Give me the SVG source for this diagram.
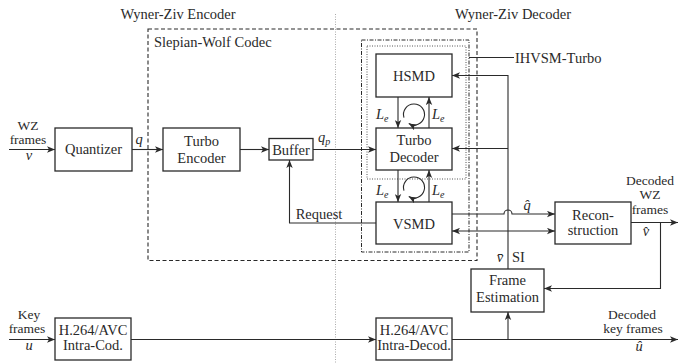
<svg xmlns="http://www.w3.org/2000/svg" width="678" height="364" viewBox="0 0 678 364" font-family="Liberation Serif, DejaVu Serif, Times New Roman, serif">
<style>
text{font-family:"Liberation Serif","DejaVu Serif","Times New Roman",serif;font-size:14.5px;fill:#2a2a2a}
.s{font-size:13.5px}
.m{font-style:italic}
.c{text-anchor:middle}
.box{fill:none;stroke:#2a2a2a;stroke-width:1.3}
.ln{fill:none;stroke:#2a2a2a;stroke-width:1.1}
.arr{marker-end:url(#ah)}
</style>
<defs>
<marker id="ah" markerUnits="userSpaceOnUse" markerWidth="9" markerHeight="7" refX="8" refY="3.5" orient="auto-start-reverse">
<path d="M0,0.3 L8,3.5 L0,6.7 L2,3.5 z" fill="#2a2a2a"/>
</marker>
</defs>
<rect width="678" height="364" fill="#fff"/>
<g id="frames">
<line x1="335.5" y1="14" x2="335.5" y2="364" stroke="#aaa" stroke-width="1" stroke-dasharray="1,1.5"/>
<rect x="148" y="29" width="329" height="231.5" fill="none" stroke="#2a2a2a" stroke-width="1.1" stroke-dasharray="4,2.5"/>
<rect x="361.5" y="40" width="107.5" height="212" fill="none" stroke="#2a2a2a" stroke-width="1" stroke-dasharray="4,1.5,1,1.5"/>
<rect x="367" y="46" width="99" height="133" fill="none" stroke="#555" stroke-width="1" stroke-dasharray="1,1.5"/>
<text x="178" y="19" class="c">Wyner-Ziv Encoder</text>
<text x="513" y="19" class="c">Wyner-Ziv Decoder</text>
<text x="154" y="47">Slepian-Wolf Codec</text>
<text x="515" y="63">IHVSM-Turbo</text>
</g>
<g id="connectors">
<path class="ln arr" d="M9,149.5 H55"/>
<path class="ln arr" d="M132,149.5 H163"/>
<path class="ln arr" d="M240,149.5 H269"/>
<path class="ln arr" d="M313,149.5 H376"/>
<path class="ln arr" d="M376,223 H289.5 V160"/>
<path class="ln arr" d="M398,97 V128"/>
<path class="ln arr" d="M429,128 V97"/>
<path class="ln arr" d="M398,170 V202"/>
<path class="ln arr" d="M429,202 V170"/>
<path class="ln arr" d="M403.96,117.57 A10.5,10.5 0 1 1 408.75,123.59"/>
<path class="ln arr" d="M403.96,190.57 A10.5,10.5 0 1 1 408.75,196.59"/>
<path class="ln arr" d="M508,269 V75.5 H452"/>
<path class="ln arr" d="M508,148.5 H452"/>
<path class="ln arr" d="M452,214 H504 A4,4 0 0 1 512,214 H555" />
<path class="ln arr" d="M452,231 H555" style="marker-start:url(#ah)"/>
<path class="ln arr" d="M631,222.5 H678"/>
<path class="ln arr" d="M660.5,222.5 V288.5 H544"/>
<path class="ln arr" d="M9,339.5 H55"/>
<path class="ln arr" d="M131,339.5 H376"/>
<path class="ln arr" d="M452,339.5 H678"/>
<path class="ln arr" d="M508,339.5 V312"/>
<path class="ln" d="M469,57.5 H514"/>
</g>
<g id="labels">
<text x="28" y="130" class="c s">WZ</text>
<text x="28" y="144" class="c s">frames</text>
<text x="29" y="160" class="c m">v</text>
<text x="139" y="144" class="c m">q</text>
<text x="318" y="142" class="m">q<tspan font-size="10" dy="3">p</tspan></text>
<text x="376" y="119" class="m">L<tspan font-size="10" dy="3">e</tspan></text>
<text x="432" y="119" class="m">L<tspan font-size="10" dy="3">e</tspan></text>
<text x="376" y="195" class="m">L<tspan font-size="10" dy="3">e</tspan></text>
<text x="432" y="195" class="m">L<tspan font-size="10" dy="3">e</tspan></text>
<text x="319" y="219" class="c">Request</text>
<text x="527" y="210" class="c m">q̂</text>
<text x="650" y="185" class="c s">Decoded</text>
<text x="650" y="199" class="c s">WZ</text>
<text x="650" y="214" class="c s">frames</text>
<text x="646" y="236" class="c m">v̂</text>
<text x="500" y="262" class="c m">v̄</text>
<text x="512" y="262">SI</text>
<text x="29" y="319" class="c s">Key</text>
<text x="27" y="333" class="c s">frames</text>
<text x="29" y="350" class="c m">u</text>
<text x="632" y="319" class="c s">Decoded</text>
<text x="633" y="333" class="c s">key frames</text>
<text x="639" y="351" class="c m">û</text>
</g>
<g id="quantizer"><rect class="box" x="55" y="128" width="77" height="43"/><text x="93.5" y="154" class="c">Quantizer</text></g>
<g id="turbo-encoder"><rect class="box" x="163" y="128" width="77" height="43"/><text x="201.5" y="146" class="c">Turbo</text><text x="201.5" y="163" class="c">Encoder</text></g>
<g id="buffer"><rect class="box" x="269" y="138.5" width="44" height="21.5"/><text x="291" y="155" class="c">Buffer</text></g>
<g id="hsmd"><rect class="box" x="376" y="54" width="76" height="43"/><text x="414" y="81" class="c">HSMD</text></g>
<g id="turbo-decoder"><rect class="box" x="376" y="128" width="76" height="42"/><text x="414" y="145" class="c">Turbo</text><text x="414" y="162" class="c">Decoder</text></g>
<g id="vsmd"><rect class="box" x="376" y="202" width="76" height="42"/><text x="414" y="229" class="c">VSMD</text></g>
<g id="reconstruction"><rect class="box" x="555" y="202" width="76" height="42"/><text x="593" y="220" class="c">Recon-</text><text x="593" y="235" class="c">struction</text></g>
<g id="frame-estimation"><rect class="box" x="471" y="269" width="73" height="43"/><text x="507.5" y="285" class="c">Frame</text><text x="507.5" y="302" class="c">Estimation</text></g>
<g id="intra-cod"><rect class="box" x="55" y="318" width="76" height="42"/><text x="93" y="335" class="c">H.264/AVC</text><text x="93" y="350" class="c">Intra-Cod.</text></g>
<g id="intra-decod"><rect class="box" x="376" y="318" width="76" height="42"/><text x="414" y="335" class="c">H.264/AVC</text><text x="414" y="350" class="c">Intra-Decod.</text></g>
</svg>
